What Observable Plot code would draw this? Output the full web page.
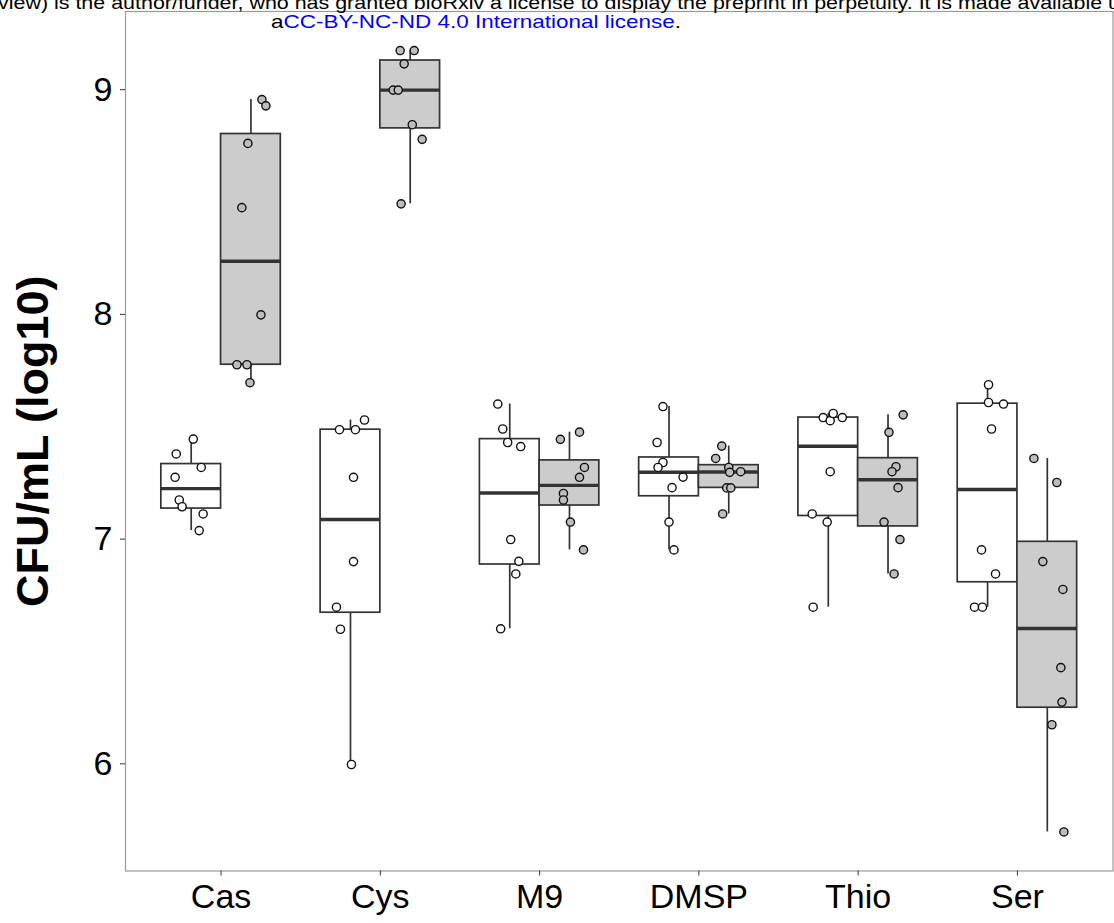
<!DOCTYPE html>
<html>
<head>
<meta charset="utf-8">
<script src="https://cdn.jsdelivr.net/npm/d3@7"></script>
<script src="https://cdn.jsdelivr.net/npm/@observablehq/plot@0.6"></script>
<style>
  body { margin: 0; background: #fff; }
  #wrap { position: relative; width: 1114px; height: 923px; overflow: hidden; background: #fff; }
  #chart { position: absolute; left: 0; top: 0; }
  #note { position: absolute; left: 0; top: 0; font-family: 'Liberation Sans', Arial, sans-serif; }
</style>
</head>
<body>
<div id="wrap">
  <div id="chart"></div>
  <svg id="note" width="1114" height="40">
    <text x="-2" y="9" font-size="19" fill="#000" textLength="1122" lengthAdjust="spacingAndGlyphs">view) is the author/funder, who has granted bioRxiv a license to display the preprint in perpetuity. It is made available u</text>
    <text x="271" y="28" font-size="19" fill="#000" textLength="410" lengthAdjust="spacingAndGlyphs">a<tspan fill="#0000ff">CC-BY-NC-ND 4.0 International license</tspan>.</text>
  </svg>
</div>
<script>
// Categories along the x axis
const categories = ["Cas", "Cys", "M9", "DMSP", "Thio", "Ser"];
const yTicks = [6, 7, 8, 9];
const yLabel = "CFU/mL (log10)";

// Each point: [CFU/mL (log10), horizontal jitter (category units)]
// open (white) group
const casOpen   = [[7.445, 0.013], [7.379, -0.094], [7.319, 0.063], [7.275, -0.101], [7.174, -0.075], [7.144, -0.057], [7.112, 0.075], [7.038, 0.050]];
const cysOpen   = [[7.530, 0.088], [7.487, -0.069], [7.487, 0.031], [7.275, 0.019], [6.900, 0.019], [6.697, -0.088], [6.599, -0.063], [5.997, 0.006]];
const m9Open    = [[7.601, -0.075], [7.490, -0.044], [7.430, -0.013], [7.412, 0.069], [6.998, 0.006], [6.901, 0.057], [6.845, 0.038], [6.601, -0.057]];
const dmspOpen  = [[7.590, -0.038], [7.430, -0.075], [7.341, -0.038], [7.319, -0.069], [7.276, 0.088], [7.229, 0.019], [7.076, 0.000], [6.952, 0.031]];
const thioOpen  = [[7.541, -0.032], [7.527, 0.012], [7.559, 0.031], [7.541, 0.088], [7.300, 0.012], [7.112, -0.101], [7.076, -0.007], [6.697, -0.095]];
const serOpen   = [[7.687, 0.006], [7.608, 0.006], [7.601, 0.100], [7.490, 0.025], [6.952, -0.038], [6.845, 0.050], [6.697, -0.082], [6.697, -0.032]];
// filled (grey) group
const casFilled  = [[8.956, 0.069], [8.928, 0.094], [8.761, -0.019], [8.475, -0.057], [7.998, 0.063], [7.776, -0.088], [7.776, -0.025], [7.696, -0.006]];
const cysFilled  = [[9.174, 0.025], [9.174, -0.063], [9.115, -0.038], [8.998, -0.107], [8.998, -0.075], [8.844, 0.013], [8.779, 0.075], [8.492, -0.057]];
const m9Filled   = [[7.476, 0.063], [7.444, -0.057], [7.319, 0.094], [7.275, 0.063], [7.203, -0.038], [7.174, -0.038], [7.076, 0.006], [6.952, 0.088]];
const dmspFilled = [[7.414, -0.044], [7.359, -0.082], [7.319, 0.000], [7.297, 0.006], [7.300, 0.075], [7.228, -0.013], [7.228, 0.013], [7.112, -0.038]];
const thioFilled = [[7.553, 0.095], [7.475, 0.006], [7.322, 0.050], [7.300, 0.025], [7.229, 0.063], [7.076, -0.025], [6.998, 0.075], [6.845, 0.038]];
const serFilled  = [[7.359, -0.084], [7.252, 0.060], [6.900, -0.028], [6.776, 0.098], [6.428, 0.085], [6.275, 0.092], [6.174, 0.029], [5.697, 0.104]];

const openSeries = [casOpen, cysOpen, m9Open, dmspOpen, thioOpen, serOpen];
const filledSeries = [casFilled, cysFilled, m9Filled, dmspFilled, thioFilled, serFilled];

// layout (ggplot-like dodge)
const dodgeWidth = 0.75;
const half = dodgeWidth / 4;

function boxStats(series, idx, offset) {
  const s = series.map(d => d[0]).sort(d3.ascending);
  const q1 = d3.quantile(s, 0.25), med = d3.quantile(s, 0.5), q3 = d3.quantile(s, 0.75);
  const iqr = q3 - q1;
  const lo = d3.min(s.filter(v => v >= q1 - 1.5 * iqr));
  const hi = d3.max(s.filter(v => v <= q3 + 1.5 * iqr));
  const c = idx + 1 + offset;
  return {c, x1: c - half, x2: c + half, q1, med, q3, lo, hi};
}
const openBoxes = openSeries.map((s, i) => boxStats(s, i, -half));
const filledBoxes = filledSeries.map((s, i) => boxStats(s, i, half));
const allBoxes = openBoxes.concat(filledBoxes);

const pts = (seriesList, offset) => seriesList.flatMap((s, i) => s.map(([v, j]) => ({x: i + 1 + offset + j, v})));
const openPts = pts(openSeries, -half);
const filledPts = pts(filledSeries, half);

const allVals = openPts.concat(filledPts).map(d => d.v);
const [vmin, vmax] = d3.extent(allVals);
const pad = (vmax - vmin) * 0.05;

const boxStroke = "#333333";
const chart = Plot.plot({
  width: 1114,
  height: 923,
  marginTop: 11,
  marginBottom: 52.5,
  marginLeft: 125,
  marginRight: 1.5,
  style: {fontFamily: "'Liberation Sans', Arial, Helvetica, sans-serif", background: "white", color: "black"},
  x: {type: "linear", domain: [0.4, categories.length + 0.6]},
  y: {domain: [vmin - pad, vmax + pad]},
  marks: [
    Plot.frame({stroke: "#9a9a9a", strokeWidth: 1.2}),
    Plot.ruleX(allBoxes, {x: "c", y1: "q3", y2: "hi", stroke: boxStroke, strokeWidth: 1.7}),
    Plot.ruleX(allBoxes, {x: "c", y1: "lo", y2: "q1", stroke: boxStroke, strokeWidth: 1.7}),
    Plot.rect(openBoxes, {x1: "x1", x2: "x2", y1: "q1", y2: "q3", fill: "white", stroke: boxStroke, strokeWidth: 1.7}),
    Plot.rect(filledBoxes, {x1: "x1", x2: "x2", y1: "q1", y2: "q3", fill: "#cccccc", stroke: boxStroke, strokeWidth: 1.7}),
    Plot.ruleY(allBoxes, {y: "med", x1: "x1", x2: "x2", stroke: boxStroke, strokeWidth: 3.4}),
    Plot.dot(openPts, {x: "x", y: "v", r: 4.1, fill: "white", stroke: "#111", strokeWidth: 1.4}),
    Plot.dot(filledPts, {x: "x", y: "v", r: 4.1, fill: "#bdbdbd", stroke: "#111", strokeWidth: 1.4}),
    Plot.axisX(categories.map((d, i) => i + 1), {
      tickFormat: d => categories[d - 1], tickSize: 5, tickPadding: 8, fontSize: 34, label: null, stroke: "#333"
    }),
    Plot.axisY(yTicks, {tickFormat: d3.format("d"), tickSize: 5, tickPadding: 8, fontSize: 34, label: null, stroke: "#333"}),
    Plot.text([yLabel], {frameAnchor: "left", dx: -78, rotate: -90, fontSize: 45, fontWeight: "bold", textAnchor: "middle", lineAnchor: "bottom", fill: "black"})
  ]
});
document.getElementById("chart").appendChild(chart);
</script>
</body>
</html>
